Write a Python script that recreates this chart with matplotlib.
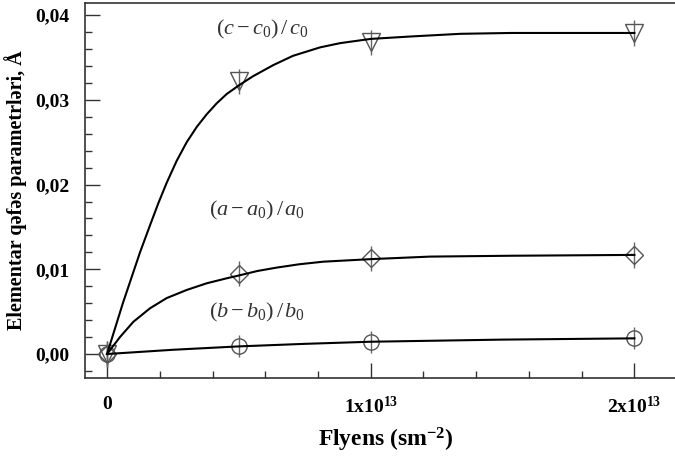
import numpy as np
import matplotlib
matplotlib.use("Agg")
import matplotlib.pyplot as plt
from matplotlib.ticker import FixedLocator, FixedFormatter, MultipleLocator

plt.rcParams['font.family'] = ['Liberation Serif', 'DejaVu Serif']
plt.rcParams['mathtext.fontset'] = 'custom'
plt.rcParams['mathtext.rm'] = 'Liberation Serif'
plt.rcParams['mathtext.it'] = 'Liberation Serif:italic'
plt.rcParams['mathtext.bf'] = 'Liberation Serif:bold'

# olculmus qiymetler (flyens, sm^-2)
flyens = [0, 0.5e13, 1e13, 2e13]
dc = [0.0, 0.0322, 0.0368, 0.0379]
da = [0.0, 0.0095, 0.0113, 0.0117]
db = [0.0, 0.0009, 0.00145, 0.00185]
err_c = 0.0015
err_a = 0.0015
err_b = 0.0013

# yaxinlasdirici egriler
fit_c_x = [0, 0.06e13, 0.125e13, 0.163e13, 0.1945e13, 0.226e13, 0.264e13, 0.302e13,
           0.34e13, 0.378e13, 0.416e13, 0.454e13, 0.504e13, 0.554e13, 0.63e13,
           0.705e13, 0.808e13, 0.884e13, 1.0e13, 1.16e13, 1.34e13, 1.53e13, 2.0e13]
fit_c_y = [0, 0.0060, 0.0120, 0.0152, 0.0178, 0.0202, 0.0228, 0.0250,
           0.0268, 0.0283, 0.0296, 0.0307, 0.0318, 0.0328, 0.0341,
           0.0352, 0.0362, 0.0367, 0.0372, 0.0375, 0.0378, 0.0379, 0.0379]
fit_a_x = [0, 0.049e13, 0.0997e13, 0.163e13, 0.226e13, 0.302e13, 0.378e13, 0.454e13,
           0.504e13, 0.57e13, 0.643e13, 0.73e13, 0.82e13, 1.0e13, 1.225e13, 1.53e13, 2.0e13]
fit_a_y = [0, 0.0020, 0.0038, 0.0054, 0.0066, 0.00756, 0.00835, 0.00894,
           0.0093, 0.0098, 0.0102, 0.0106, 0.0109, 0.0112, 0.0115, 0.0116, 0.0117]
fit_b_x = [0, 0.25e13, 0.5e13, 0.75e13, 1.0e13, 1.5e13, 2.0e13]
fit_b_y = [0, 0.0005, 0.0009, 0.0012, 0.00145, 0.0017, 0.00185]

fig = plt.figure(figsize=(6.75, 4.59), dpi=100)
ax = fig.add_axes([0.126, 0.1765, 0.892, 0.817])

ax.plot(fit_c_x, fit_c_y, color='black', lw=1.5, zorder=3)
ax.plot(fit_a_x, fit_a_y, color='black', lw=1.5, zorder=3)
ax.plot(fit_b_x, fit_b_y, color='black', lw=1.5, zorder=3)

for y, err, m, ms in [(dc, err_c, 'v', 13), (da, err_a, 'D', 9.5), (db, err_b, 'o', 11)]:
    ax.errorbar(flyens, y, yerr=err, fmt='none', ecolor='#666666', elinewidth=1, capsize=0, zorder=2)
    ax.plot(flyens, y, linestyle='none', marker=m, ms=ms, mfc='none', mec='#555555', mew=1, zorder=2)

ax.set_xlim(-0.0834e13, 2.2e13)
ax.set_ylim(-0.00283, 0.04144)

ax.xaxis.set_major_locator(FixedLocator([0, 1e13, 2e13]))
ax.xaxis.set_major_formatter(FixedFormatter(['0', r'$\mathbf{1x10^{13}}$', r'$\mathbf{2x10^{13}}$']))
ax.xaxis.set_minor_locator(MultipleLocator(0.2e13))
ax.yaxis.set_major_locator(FixedLocator([0, 0.01, 0.02, 0.03, 0.04]))
ax.yaxis.set_major_formatter(FixedFormatter(['0,00', '0,01', '0,02', '0,03', '0,04']))
ax.yaxis.set_minor_locator(MultipleLocator(0.002))

ax.tick_params(which='both', direction='in', color='#333333', width=1)
ax.tick_params(which='major', length=11, labelsize=14, pad=11)
ax.tick_params(which='minor', length=5)
ax.tick_params(axis='x', which='major', pad=13)
for lbl in ax.get_yticklabels() + ax.get_xticklabels():
    lbl.set_fontweight('bold')

for s in ax.spines.values():
    s.set_color('#333333')
    s.set_linewidth(1.2)

ax.set_xlabel(r'$\mathbf{Flyens\ (sm^{-2})}$', fontsize=17, labelpad=6)
ax.set_ylabel('Elementar qəfəs parametrləri, Å', fontsize=14.5, fontweight='bold', labelpad=6)

ax.text(0.59e13, 0.0383, r'$(c-c_0)\,/\,c_0$', fontsize=16, color='#333333', ha='center', va='center')
ax.text(0.57e13, 0.0170, r'$(a-a_0)\,/\,a_0$', fontsize=16, color='#333333', ha='center', va='center')
ax.text(0.57e13, 0.0049, r'$(b-b_0)\,/\,b_0$', fontsize=16, color='#333333', ha='center', va='center')

fig.savefig('out.png', dpi=100)
